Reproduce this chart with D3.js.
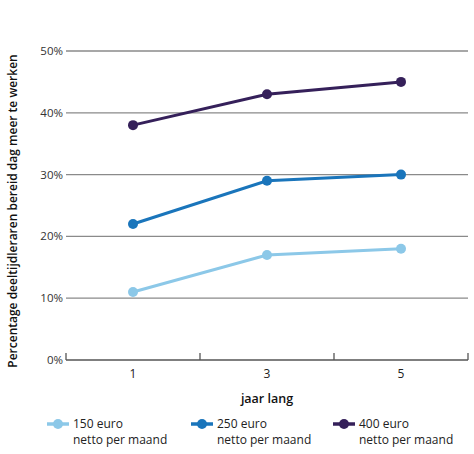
<!DOCTYPE html>
<html><head><meta charset="utf-8">
<script src="https://cdn.jsdelivr.net/npm/d3@7"></script>
<style>body{margin:0;background:#fff}svg{display:block}text{font-family:"Open Sans","Noto Sans",sans-serif}</style>
</head><body><svg id="c" width="474" height="454"></svg>
<script>
const categories = ["1","3","5"];
const yTicks = [0,10,20,30,40,50];
const series150 = [11,17,18];
const series250 = [22,29,30];
const series400 = [38,43,45];
const seriesNames = ["150 euro","250 euro","400 euro"];
const seriesColors = ["#8cc8e8","#1a75bb","#35205a"];
const xTitle = "jaar lang";
const yTitle = "Percentage deeltijdleraren bereid dag meer te werken";
const legendSub = "netto per maand";

(function(){
const svg = d3.select("#c");
const mLeft = 66, mRight = 468, mTop = 51, mBottom = 360;
const x = d3.scaleBand().domain(categories).range([mLeft,mRight]);
const y = d3.scaleLinear().domain([0,50]).range([mBottom,mTop]);

svg.append("g").selectAll("line").data(yTicks.filter(d=>d>0)).join("line")
  .attr("x1",mLeft).attr("x2",mRight).attr("y1",d=>y(d)).attr("y2",d=>y(d))
  .attr("stroke","#8a8a8a").attr("stroke-width",1.3);
svg.append("g").selectAll("text").data(yTicks).join("text")
  .attr("x",mLeft-3).attr("y",d=>y(d)).attr("dy","0.35em").attr("text-anchor","end")
  .attr("font-size",11.5).attr("fill","#333").text(d=>d+"%");
svg.append("line").attr("x1",mLeft).attr("x2",mRight).attr("y1",mBottom).attr("y2",mBottom)
  .attr("stroke","#555").attr("stroke-width",1.3);
const tickPos = categories.map(c=>x(c)).concat([mRight]);
svg.append("g").selectAll("line").data(tickPos).join("line")
  .attr("x1",d=>d).attr("x2",d=>d).attr("y1",mBottom).attr("y2",mBottom-7)
  .attr("stroke","#555").attr("stroke-width",1.3);
svg.append("g").selectAll("text").data(categories).join("text")
  .attr("x",d=>x(d)+x.bandwidth()/2).attr("y",378).attr("text-anchor","middle")
  .attr("font-size",12).attr("fill","#222").text(d=>d);
svg.append("text").attr("x",(mLeft+mRight)/2).attr("y",403).attr("text-anchor","middle")
  .attr("font-size",12.5).attr("font-weight",600).attr("fill","#111").text(xTitle);
svg.append("text").attr("transform","translate(17,211) rotate(-90)").attr("text-anchor","middle")
  .attr("font-size",12).attr("font-weight",600).attr("fill","#111").text(yTitle);

const allSeries = [series150, series250, series400];
const line = d3.line().x((d,i)=>x(categories[i])+x.bandwidth()/2).y(d=>y(d));
allSeries.forEach((s,k)=>{
  const g = svg.append("g");
  g.append("path").attr("d",line(s)).attr("fill","none").attr("stroke",seriesColors[k]).attr("stroke-width",3);
  g.selectAll("circle").data(s).join("circle")
    .attr("cx",(d,i)=>x(categories[i])+x.bandwidth()/2).attr("cy",d=>y(d)).attr("r",5)
    .attr("fill",seriesColors[k]);
});

const legX = [73,217,359];
seriesNames.forEach((n,k)=>{
  const g = svg.append("g").attr("transform",`translate(${legX[k]},0)`);
  g.append("line").attr("x1",-26).attr("x2",-4).attr("y1",424).attr("y2",424)
    .attr("stroke",seriesColors[k]).attr("stroke-width",3.5);
  g.append("circle").attr("cx",-15).attr("cy",424).attr("r",5).attr("fill",seriesColors[k]);
  g.append("text").attr("x",0).attr("y",428).attr("font-size",12).attr("fill","#222").text(n);
  g.append("text").attr("x",0).attr("y",444).attr("font-size",12).attr("fill","#222").text(legendSub);
});
})();
</script></body></html>
